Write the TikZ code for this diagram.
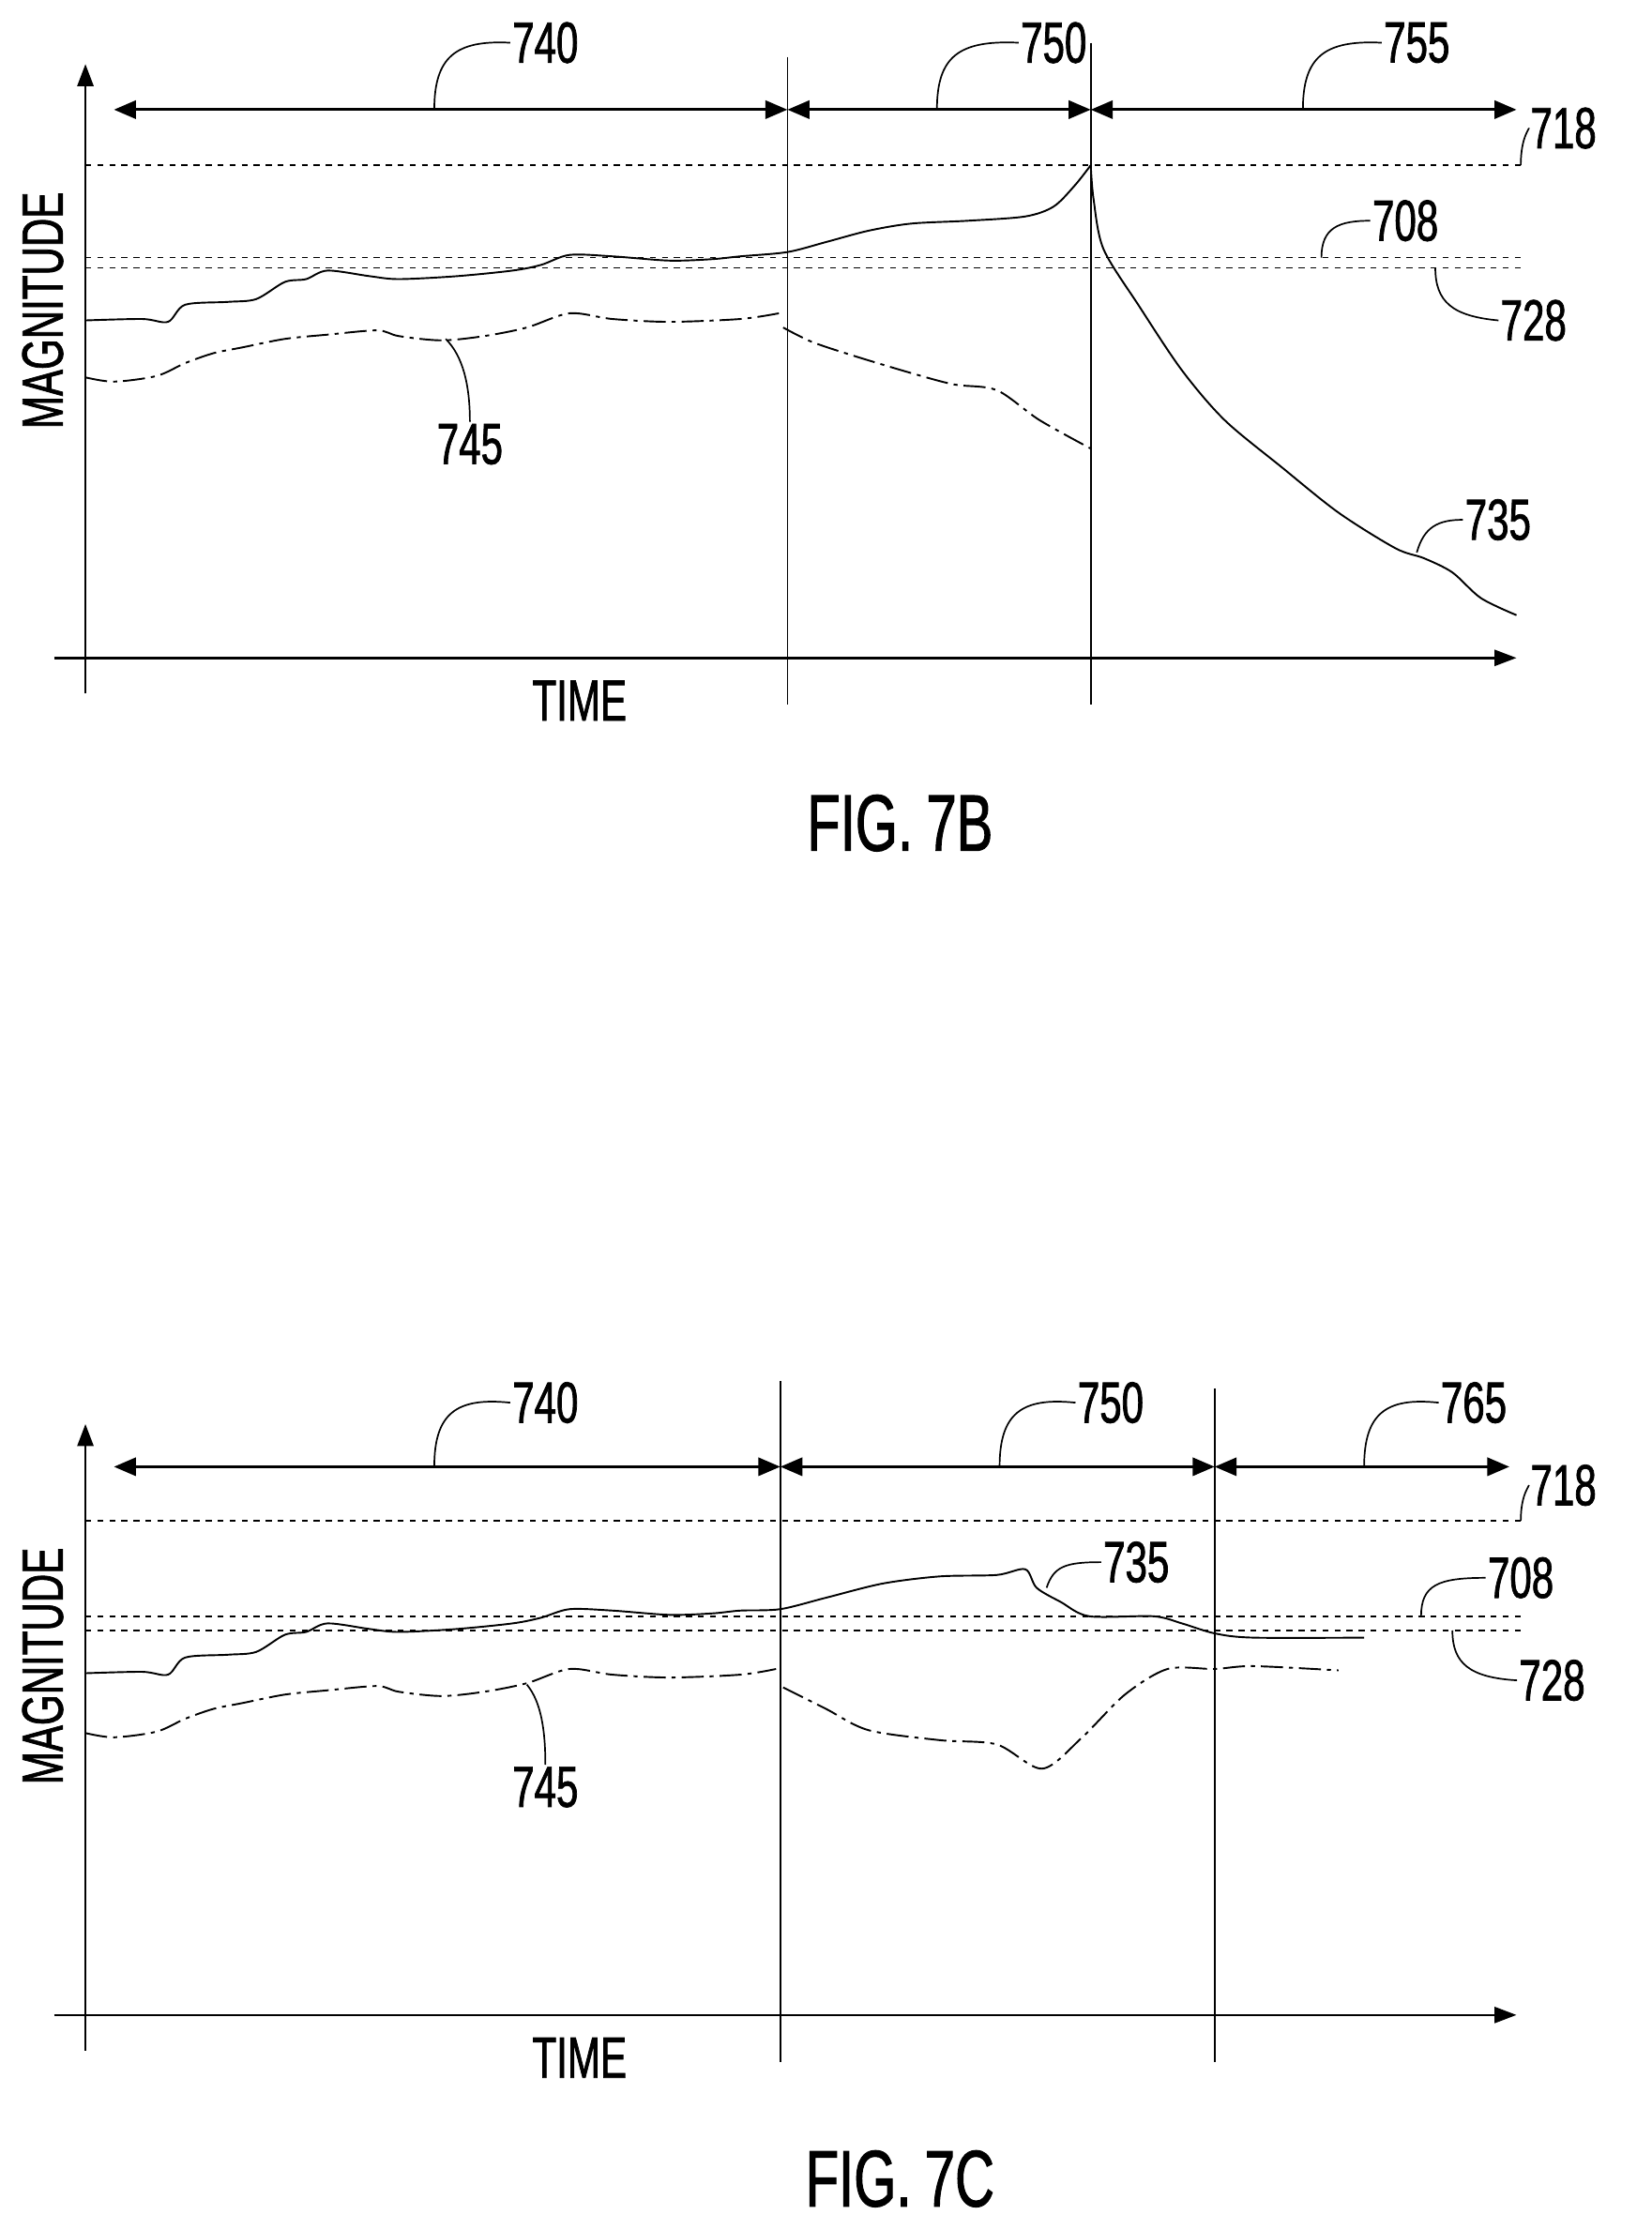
\documentclass[tikz,border=0pt]{standalone}
\usepackage{fontspec}
\setmainfont{Liberation Sans}[FakeStretch=0.68,FakeBold=1.2]
\usetikzlibrary{arrows.meta}
\tikzset{
  axis/.style={line width=2.4pt,-{Triangle[length=22pt,width=16pt]}},
  span/.style={line width=3pt,{Triangle[length=22pt,width=18pt]}-{Triangle[length=22pt,width=18pt]}},
  divider/.style={line width=1.6pt},
  level/.style={line width=1.4pt,dash pattern=on 6pt off 6pt},
  signal/.style={line width=1.8pt},
  proxy/.style={line width=1.8pt,dash pattern=on 22pt off 6pt on 4pt off 6pt},
  lead/.style={line width=1.6pt},
  lbl/.style={font=\fontsize{58}{58}\selectfont,inner sep=2pt}
}
\begin{document}
\begin{tikzpicture}[x=0.05cm,y=-0.05cm]
\useasboundingbox (0,0) rectangle (1160,1566);
% ---- FIG. 7B
\draw[axis] (60,487) -- (60,45);
\draw[axis] (38,462) -- (1065,462);
\node[lbl,rotate=90] (magB) at (30,218) {MAGNITUDE};
\node[lbl] (timeB) at (407,492) {TIME};
\node[lbl] (figB) at (632,578) {\fontsize{80}{80}\selectfont FIG.\,7B};
\draw[divider] (553,40) -- (553,495);
\draw[divider] (766,30) -- (766,495);
\coordinate (s1) at (80,77);
\coordinate (s2) at (553,77);
\coordinate (s3) at (766,77);
\coordinate (s4) at (1065,77);
\draw[span] (s1) -- (s2);
\draw[span] (s2) -- (s3);
\draw[span] (s3) -- (s4);
\draw[level] (60,116) -- (1068,116);
\draw[level] (60,181) -- (1068,181);
\draw[level] (60,188) -- (1068,188);
\draw[signal] plot[smooth,tension=0.5] coordinates {(60,225) (100,224) (118,226) (130,214) (160,212) (180,210) (200,198) (215,196) (230,190) (260,194) (280,196) (320,194) (360,190) (380,186) (400,179) (430,180) (470,183) (500,182) (520,180) (553,177) (580,170) (610,162) (640,157) (680,155) (720,152) (740,145) (755,130) (766,116)};
\draw[signal] plot[smooth,tension=0.5] coordinates {(766,116) (768,140) (775,175) (800,215) (830,260) (860,295) (900,328) (940,360) (980,385) (1000,392) (1020,402) (1040,420) (1065,432)};
\draw[proxy] plot[smooth,tension=0.5] coordinates {(60,265) (80,268) (110,264) (130,255) (150,248) (170,244) (200,238) (230,235) (265,232) (280,236) (310,239) (340,236) (370,230) (400,220) (430,224) (470,226) (520,224) (547,220)};
\draw[proxy] plot[smooth,tension=0.5] coordinates {(550,230) (570,240) (600,250) (640,262) (670,270) (700,274) (730,295) (766,315)};
\node[lbl] (n740b) at (383,30) {740};
\node[lbl] (n750b) at (740,30) {750};
\node[lbl] (n755b) at (995,30) {755};
\node[lbl] (n718b) at (1098,90) {718};
\node[lbl] (n708b) at (987,155) {708};
\node[lbl] (n728b) at (1077,225) {728};
\node[lbl] (n745b) at (330,312) {745};
\node[lbl] (n735b) at (1052,365) {735};
\draw[lead] (305,77) .. controls (305,40) and (320,28) .. (n740b.west);
\draw[lead] (658,77) .. controls (658,40) and (673,28) .. (n750b.west);
\draw[lead] (915,77) .. controls (915,40) and (930,28) .. (n755b.west);
\draw[lead] (1068,116) .. controls (1068,95) and (1075,90) .. (n718b.west);
\draw[lead] (928,181) .. controls (928,160) and (940,155) .. (n708b.west);
\draw[lead] (1008,188) .. controls (1008,212) and (1020,222) .. (n728b.west);
\draw[lead] (313,238) .. controls (325,250) and (330,270) .. (n745b.north);
\draw[lead] (995,388) .. controls (1000,370) and (1010,365) .. (n735b.west);
% ---- FIG. 7C
\draw[axis] (60,1440) -- (60,1000);
\draw[axis] (38,1415) -- (1065,1415);
\node[lbl,rotate=90] (magC) at (30,1170) {MAGNITUDE};
\node[lbl] (timeC) at (407,1445) {TIME};
\node[lbl] (figC) at (632,1530) {\fontsize{80}{80}\selectfont FIG.\,7C};
\draw[divider] (548,970) -- (548,1448);
\draw[divider] (853,975) -- (853,1448);
\coordinate (c1) at (80,1030);
\coordinate (c2) at (548,1030);
\coordinate (c3) at (853,1030);
\coordinate (c4) at (1060,1030);
\draw[span] (c1) -- (c2);
\draw[span] (c2) -- (c3);
\draw[span] (c3) -- (c4);
\draw[level] (60,1068) -- (1068,1068);
\draw[level] (60,1135) -- (1068,1135);
\draw[level] (60,1145) -- (1068,1145);
\draw[signal] plot[smooth,tension=0.5] coordinates {(60,1175) (100,1174) (118,1176) (130,1164) (160,1162) (180,1160) (200,1148) (215,1146) (230,1140) (260,1144) (280,1146) (320,1144) (360,1140) (380,1136) (400,1130) (430,1131) (470,1134) (500,1133) (520,1131) (548,1130) (580,1122) (620,1112) (660,1107) (700,1106) (720,1102) (728,1115) (745,1125) (765,1135) (810,1135) (830,1140) (853,1147) (880,1150) (958,1150)};
\draw[proxy] plot[smooth,tension=0.5] coordinates {(60,1217) (80,1220) (110,1216) (130,1207) (150,1200) (170,1196) (200,1190) (230,1187) (265,1184) (280,1188) (310,1191) (340,1188) (370,1182) (400,1172) (430,1176) (470,1178) (520,1176) (545,1172)};
\draw[proxy] plot[smooth,tension=0.5] coordinates {(550,1185) (580,1200) (610,1215) (660,1222) (700,1225) (732,1242) (760,1220) (790,1190) (820,1172) (853,1172) (880,1170) (940,1173)};
\node[lbl] (n740c) at (383,985) {740};
\node[lbl] (n750c) at (780,985) {750};
\node[lbl] (n765c) at (1035,985) {765};
\node[lbl] (n718c) at (1098,1043) {718};
\node[lbl] (n708c) at (1068,1108) {708};
\node[lbl] (n728c) at (1090,1180) {728};
\node[lbl] (n735c) at (798,1097) {735};
\node[lbl] (n745c) at (383,1255) {745};
\draw[lead] (305,1030) .. controls (305,993) and (320,981) .. (n740c.west);
\draw[lead] (702,1030) .. controls (702,993) and (717,981) .. (n750c.west);
\draw[lead] (958,1030) .. controls (958,993) and (973,981) .. (n765c.west);
\draw[lead] (1068,1068) .. controls (1068,1048) and (1075,1043) .. (n718c.west);
\draw[lead] (998,1135) .. controls (998,1113) and (1010,1108) .. (n708c.west);
\draw[lead] (1020,1145) .. controls (1020,1168) and (1032,1178) .. (n728c.west);
\draw[lead] (735,1115) .. controls (740,1100) and (748,1097) .. (n735c.west);
\draw[lead] (370,1183) .. controls (380,1195) and (383,1215) .. (n745c.north);
\end{tikzpicture}
\end{document}
